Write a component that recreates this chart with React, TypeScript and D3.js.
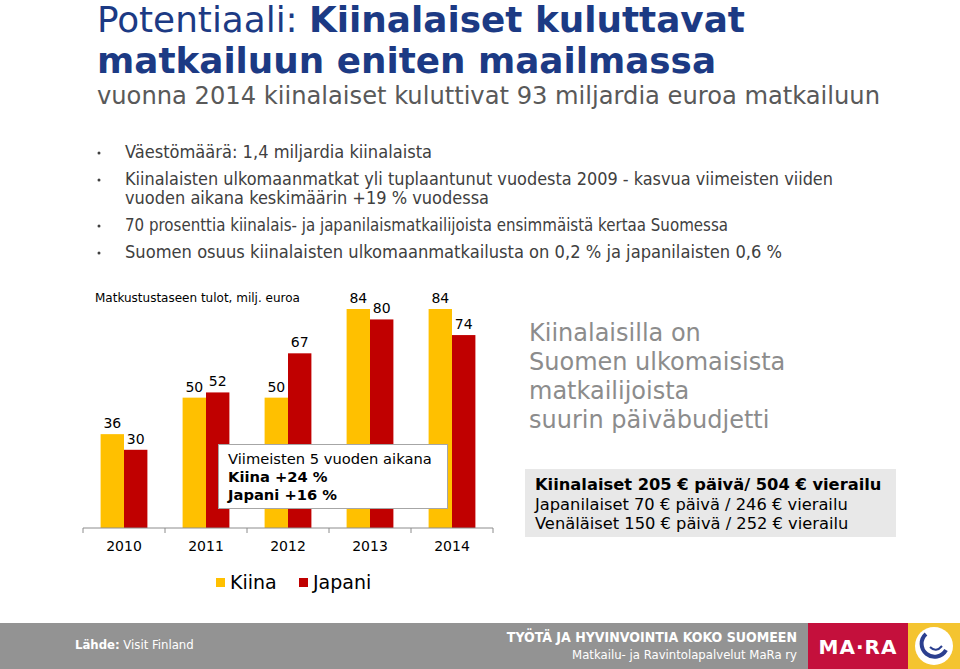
import React from "react";
import * as d3 from "d3";

const years = ["2010", "2011", "2012", "2013", "2014"];
const series = ["Kiina", "Japani"];
const kiina = [36, 50, 50, 84, 84];
const japani = [30, 52, 67, 80, 74];
const colors = ["#FFC000", "#C00000"];

const bullets = [
  ["Väestömäärä: 1,4 miljardia kiinalaista"],
  ["Kiinalaisten ulkomaanmatkat yli tuplaantunut vuodesta 2009 - kasvua viimeisten viiden", "vuoden aikana keskimäärin +19 % vuodessa"],
  ["70 prosenttia kiinalais- ja japanilaismatkailijoista ensimmäistä kertaa Suomessa"],
  ["Suomen osuus kiinalaisten ulkomaanmatkailusta on 0,2 % ja japanilaisten 0,6 %"],
];
const sideText = ["Kiinalaisilla on", "Suomen ulkomaisista", "matkailijoista", "suurin päiväbudjetti"];
const budget = [
  "Kiinalaiset 205 € päivä/ 504 € vierailu",
  "Japanilaiset 70 € päivä / 246 € vierailu",
  "Venäläiset 150 € päivä / 252 € vierailu",
];

const W = 960;
const H = 669;
const narrow = "'Liberation Sans Narrow', 'Arial Narrow', 'DejaVu Sans Condensed', sans-serif";
const verdana = "Verdana, 'DejaVu Sans', sans-serif";

export default function App() {
  // chart scales
  const x0 = d3.scaleBand().domain(years).range([83, 493]);
  const x1 = d3.scaleBand().domain(series).range([17.6, 64.4]);
  const y = d3.scaleLinear().domain([0, 84]).range([528, 309]);
  const values = [kiina, japani];

  const tickXs = years.map((yr) => x0(yr)).concat([x0.range()[1]]);

  // bullet lines: baselines and widths
  const bulletY = [158, 185, 204, 231, 258];
  const bulletWidths = [307, 708, 364, 603, 657];

  let lineIdx = 0;

  return (
    <svg width={W} height={H} style={{ position: "absolute", left: 0, top: 0, display: "block" }}>
      <rect width={W} height={H} fill="#fff" />

      {/* title */}
      <text x={97} y={32} fontFamily={narrow} fontSize={36} fill="#1c3a84" textLength={648} lengthAdjust="spacingAndGlyphs">
        Potentiaali: <tspan fontWeight="bold">Kiinalaiset kuluttavat</tspan>
      </text>
      <text x={97} y={73} fontFamily={narrow} fontSize={36} fontWeight="bold" fill="#1c3a84" textLength={619} lengthAdjust="spacingAndGlyphs">
        matkailuun eniten maailmassa
      </text>
      <text x={97} y={104} fontFamily={narrow} fontSize={25} fill="#595959" textLength={783} lengthAdjust="spacingAndGlyphs">
        vuonna 2014 kiinalaiset kuluttivat 93 miljardia euroa matkailuun
      </text>

      {/* bullets */}
      {bullets.map((b, i) => (
        <g key={i}>
          <circle cx={99} cy={bulletY[lineIdx] - 5} r={1.5} fill="#404040" />
          {b.map((line, j) => {
            const k = lineIdx++;
            return (
              <text key={j} x={125} y={bulletY[k]} fontFamily={narrow} fontSize={17} fill="#404040" textLength={bulletWidths[k]} lengthAdjust="spacingAndGlyphs">
                {line}
              </text>
            );
          })}
        </g>
      ))}

      {/* chart title */}
      <text x={95} y={302} fontFamily={verdana} fontSize={12} fill="#000">
        Matkustustaseen tulot, milj. euroa
      </text>

      {/* bars */}
      {years.map((yr, i) => (
        <g key={yr} transform={`translate(${x0(yr)},0)`}>
          {series.map((s, k) => {
            const v = values[k][i];
            const bx = x1(s) as number;
            return (
              <g key={s}>
                <rect x={bx} y={y(v)} width={x1.bandwidth()} height={y(0) - y(v)} fill={colors[k]} />
                <text x={bx + x1.bandwidth() / 2} y={y(v) - 6} textAnchor="middle" fontFamily={verdana} fontSize={14} fill="#000">
                  {v}
                </text>
              </g>
            );
          })}
        </g>
      ))}

      {/* axis */}
      <line x1={x0.range()[0]} x2={x0.range()[1]} y1={y(0)} y2={y(0)} stroke="#8c8c8c" />
      {tickXs.map((tx, i) => (
        <line key={i} x1={tx} x2={tx} y1={y(0)} y2={y(0) + 5} stroke="#8c8c8c" />
      ))}
      {years.map((yr) => (
        <text key={yr} x={(x0(yr) as number) + x0.bandwidth() / 2} y={551} textAnchor="middle" fontFamily={verdana} fontSize={14} fill="#000">
          {yr}
        </text>
      ))}

      {/* annotation */}
      <rect x={218.5} y={444.5} width={229} height={64} fill="#fff" stroke="#a6a6a6" />
      <text fontFamily={verdana} fontSize={14.7} fill="#000">
        <tspan x={228} y={464}>Viimeisten 5 vuoden aikana</tspan>
        <tspan x={228} y={482} fontWeight="bold">Kiina +24 %</tspan>
        <tspan x={228} y={500} fontWeight="bold">Japani +16 %</tspan>
      </text>

      {/* legend */}
      {series.map((s, k) => (
        <g key={s} transform={`translate(${k === 0 ? 216 : 299},578)`}>
          <rect width={9} height={9} fill={colors[k]} />
          <text x={14} y={11} fontFamily={verdana} fontSize={19} fill="#000">
            {s}
          </text>
        </g>
      ))}

      {/* side text */}
      {sideText.map((t, i) => (
        <text key={i} x={529} y={341 + i * 29} fontFamily={verdana} fontSize={24} fill="#8c8c8c">
          {t}
        </text>
      ))}

      <rect x={525} y={469} width={371} height={68} fill="#e8e8e8" />
      {budget.map((t, i) => (
        <text key={i} x={535} y={490 + i * 19.5} fontFamily={verdana} fontSize={16.3} fontWeight={i === 0 ? "bold" : "normal"} fill="#000">
          {t}
        </text>
      ))}

      {/* footer */}
      <rect x={0} y={623} width={808} height={46} fill="#939393" />
      <text x={75} y={649} fontFamily={narrow} fontSize={13} fill="#fff">
        <tspan fontWeight="bold">Lähde:</tspan> Visit Finland
      </text>
      <text x={797} y={642} textAnchor="end" fontFamily={narrow} fontSize={14} fontWeight="bold" fill="#fff">
        TYÖTÄ JA HYVINVOINTIA KOKO SUOMEEN
      </text>
      <text x={797} y={659} textAnchor="end" fontFamily={narrow} fontSize={13} fill="#fff">
        Matkailu- ja Ravintolapalvelut MaRa ry
      </text>
      <rect x={808} y={623} width={100} height={46} fill="#c4103c" />
      <text x={858} y={654} textAnchor="middle" fontFamily={verdana} fontSize={20} fontWeight="bold" fill="#fff" letterSpacing={1}>
        MA·RA
      </text>
      <rect x={908} y={623} width={52} height={46} fill="#f4c430" />
      <circle cx={934} cy={646} r={19} fill="#fff" />
      <path d="M 926 634 A 13 13 0 1 0 946 650" fill="none" stroke="#2b3f8f" strokeWidth={4} />
      <path d="M 930 647 Q 936 653 942 646" fill="none" stroke="#2b3f8f" strokeWidth={2} />
    </svg>
  );
}
